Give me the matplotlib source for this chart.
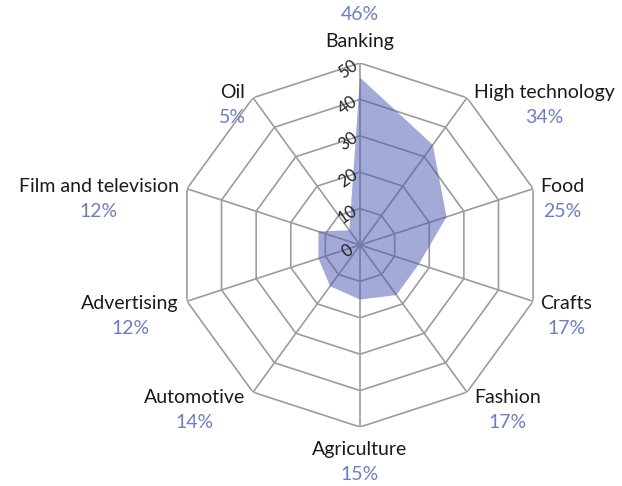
import numpy as np
import matplotlib.pyplot as plt

# sector shares
categories = ['Banking', 'High technology', 'Food', 'Crafts', 'Fashion',
              'Agriculture', 'Automotive', 'Advertising', 'Film and television', 'Oil']
shares = [46, 34, 25, 17, 17, 15, 14, 12, 12, 5]
pct_labels = ['46%', '34%', '25%', '17%', '17%', '15%', '14%', '12%', '12%', '5%']
ring_levels = [0, 10, 20, 30, 40, 50]

plt.rcParams['font.family'] = ['Lato', 'DejaVu Sans']

fig = plt.figure(figsize=(6.22, 4.86), dpi=100)
ax = fig.add_axes([0.2862, 0.1214, 0.5852, 0.749], projection='polar')
ax.set_theta_zero_location('N')
ax.set_theta_direction(-1)
ax.set_ylim(0, 50)
ax.grid(False)
ax.spines['polar'].set_visible(False)
ax.set_xticks([])
ax.set_yticks([])

n = len(categories)
theta = np.arange(n) * 2 * np.pi / n
closed = np.append(theta, theta[0])

grid_col = '#9c9c9c'
# decagon rings
for lv in ring_levels[1:]:
    ax.plot(closed, [lv] * (n + 1), color=grid_col, lw=1.2, zorder=1)
# spokes
for t in theta:
    ax.plot([t, t], [0, 50], color=grid_col, lw=1.2, zorder=1)

# data area
vals = np.append(shares, shares[0])
ax.fill(closed, vals, color='#4a57b0', alpha=0.5, lw=0, zorder=2)

# radial tick labels along the top spoke
px = 0.72  # points per pixel at dpi 100
for lv in ring_levels:
    ax.annotate(str(lv), xy=(0, lv), xytext=(-12 * px, -6 * px), textcoords='offset points',
                ha='center', va='center', rotation=35, fontsize=12, color='#222222')

# category labels with percentages
for t, name, pct in zip(theta, categories, pct_labels):
    s, c = np.sin(t), np.cos(t)
    if abs(s) < 0.1:
        ha = 'center'
        dx = 0
        dy = 21 if c > 0 else -23
    else:
        ha = 'left' if s > 0 else 'right'
        dx = 7 if s > 0 else -8
        dy = 6 * c
    txt = ax.annotate(name, xy=(t, 50), xytext=(dx * px, dy * px), textcoords='offset points',
                      ha=ha, va='center', fontsize=14, color='#1a1a1a')
    off = 27 if (abs(s) < 0.1 and c > 0) else -25
    ax.annotate(pct, xy=(0.5, 0.5), xycoords=txt, xytext=(0, off * px), textcoords='offset points',
                ha='center', va='center', fontsize=14, color='#6e7ec4')

fig.savefig('out.png', dpi=100)
